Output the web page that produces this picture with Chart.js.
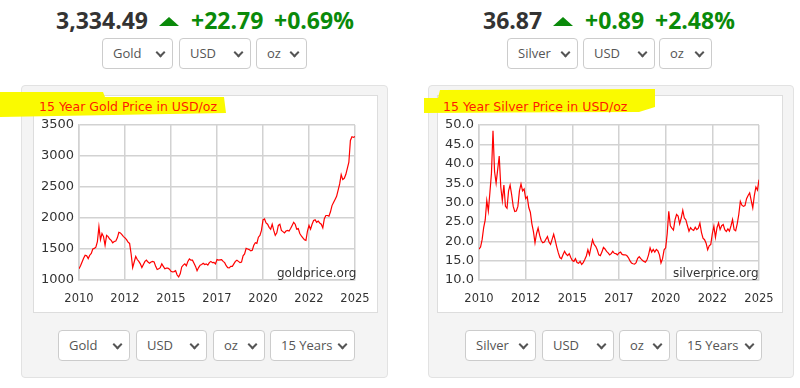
<!DOCTYPE html>
<html>
<head>
<meta charset="utf-8">
<script src="https://cdn.jsdelivr.net/npm/chart.js@4"></script>
<style>
  body { margin: 0; width: 800px; height: 388px; background: #fff; position: relative; overflow: hidden; font-family: 'Open Sans', sans-serif; }
  .price { position: absolute; top: 9px; font-size: 23px; line-height: 23px; font-weight: 700; color: #333; white-space: nowrap; }
  .up { color: #0a8a0a; }
  .tri { position: absolute; top: 17px; width: 0; height: 0; border-left: 10px solid transparent; border-right: 10px solid transparent; border-bottom: 9px solid #0a8a0a; }
  .sel { position: absolute; height: 31px; box-sizing: border-box; border: 1px solid #ccc; border-radius: 4px; background: #fff; font-size: 13px; line-height: 29px; color: #555; padding-left: 10px; white-space: nowrap; }
  .sel::after { content: ''; position: absolute; right: 8px; top: 10px; width: 5px; height: 5px; border-right: 2px solid #555; border-bottom: 2px solid #555; transform: rotate(45deg); }
  .panel { position: absolute; top: 85px; height: 293px; box-sizing: border-box; background: #f4f4f4; border: 1px solid #e2e2e2; border-radius: 4px; }
  .inner { position: absolute; top: 95px; height: 218px; box-sizing: border-box; background: #fff; border: 1px solid #ddd; }
  .mark { position: absolute; background: #fafa00; }
  .title { position: absolute; top: 99px; font-family: 'DejaVu Sans', sans-serif; font-size: 12.5px; line-height: 15px; color: #ff1a00; white-space: nowrap; }
  .wm { position: absolute; top: 266px; font-family: 'DejaVu Sans', sans-serif; font-size: 12px; line-height: 14px; color: #333; white-space: nowrap; }
  canvas { position: absolute; }
</style>
</head>
<body>

<div class="price" style="left:56px">3,334.49</div>
<div class="tri" style="left:159px"></div>
<div class="price up" style="left:191px">+22.79</div>
<div class="price up" style="left:274px">+0.69%</div>
<div class="sel" style="left:102px;top:38px;width:71px">Gold</div>
<div class="sel" style="left:179px;top:38px;width:72px">USD</div>
<div class="sel" style="left:256px;top:38px;width:51px">oz</div>

<div class="price" style="left:483px">36.87</div>
<div class="tri" style="left:553px"></div>
<div class="price up" style="left:585px">+0.89</div>
<div class="price up" style="left:655px">+2.48%</div>
<div class="sel" style="left:507px;top:38px;width:71px">Silver</div>
<div class="sel" style="left:583px;top:38px;width:72px">USD</div>
<div class="sel" style="left:659px;top:38px;width:53px">oz</div>

<div class="panel" style="left:21px;width:367px"></div>
<div class="inner" style="left:33px;width:345px"></div>
<div class="panel" style="left:428px;width:366px"></div>
<div class="inner" style="left:437px;width:346px"></div>

<div class="mark" style="left:0;top:92px;width:226px;height:26px;clip-path:polygon(0 0,103px 0,105px 5px,224px 5px,226px 21px,0 25px)"></div>
<div class="mark" style="left:424px;top:89px;width:232px;height:25px;clip-path:polygon(0 9px,14px 9px,16px 1px,231px 0,231px 18px,215px 23px,0 24px)"></div>

<div class="title" style="left:39px">15 Year Gold Price in USD/oz</div>
<div class="title" style="left:443px">15 Year Silver Price in USD/oz</div>

<canvas id="goldChart" width="340" height="200" style="left:36px;top:113px"></canvas>
<canvas id="silverChart" width="342" height="200" style="left:440px;top:113px"></canvas>

<div class="wm" style="left:277px">goldprice.org</div>
<div class="wm" style="left:673px">silverprice.org</div>

<div class="sel" style="left:58px;top:330px;width:72px">Gold</div>
<div class="sel" style="left:136px;top:330px;width:71px">USD</div>
<div class="sel" style="left:213px;top:330px;width:52px">oz</div>
<div class="sel" style="left:270px;top:330px;width:85px">15 Years</div>
<div class="sel" style="left:465px;top:330px;width:71px">Silver</div>
<div class="sel" style="left:542px;top:330px;width:72px">USD</div>
<div class="sel" style="left:619px;top:330px;width:51px">oz</div>
<div class="sel" style="left:676px;top:330px;width:86px">15 Years</div>

<script>
// monthly prices, first point mid 2010
const startYear = 2010.45;
const spanYears = 15;
const xTickStep = 2.5;
const xTickLabels = ['2010', '2012', '2015', '2017', '2020', '2022', '2025'];

const goldTicks = [1000, 1500, 2000, 2500, 3000, 3500];
const silverTicks = [10, 15, 20, 25, 30, 35, 40, 45, 50];

const goldPrices = [
  1180,1230,1290,1350,1400,1390,1345,1400,1430,1500,1510,1530,
  1620,1860,1650,1750,1700,1560,1720,1700,1660,1640,1600,1620,
  1630,1680,1770,1760,1730,1700,1680,1650,1610,1590,1420,1200,
  1290,1380,1330,1300,1260,1200,1250,1300,1320,1290,1270,1290,
  1300,1290,1220,1170,1180,1200,1260,1220,1180,1190,1190,1175,
  1140,1130,1135,1150,1080,1050,1100,1210,1240,1260,1230,1300,
  1340,1320,1320,1270,1220,1150,1200,1240,1250,1270,1250,1260,
  1240,1280,1300,1280,1285,1260,1330,1320,1325,1330,1300,1280,
  1230,1200,1195,1220,1220,1260,1300,1320,1300,1280,1290,1390,
  1420,1510,1500,1490,1470,1480,1560,1600,1590,1690,1720,1800,
  1970,1985,1920,1900,1850,1820,1900,1800,1720,1760,1880,1900,
  1800,1780,1760,1790,1800,1790,1830,1880,1930,1900,1820,1830,
  1750,1710,1680,1650,1640,1790,1880,1820,1900,1960,1970,1930,
  1950,1920,1900,1840,1990,2040,2040,2030,2100,2200,2250,2300,
  2350,2450,2550,2700,2620,2640,2700,2800,2900,3250,3310,3300,
  3315
];

const silverPrices = [
  18.0,18.5,20.4,23.5,25.5,30.5,27.8,32.5,37.5,48.5,38.0,35.0,
  38.5,42.0,34.0,30.5,34.5,29.0,28.5,33.0,34.5,32.0,29.0,27.7,
  27.8,29.0,33.0,34.8,33.0,33.5,31.0,31.5,28.7,27.5,24.5,22.5,
  19.6,22.0,23.4,21.5,20.2,19.6,19.8,20.5,21.2,19.8,19.2,20.5,
  21.8,20.2,18.5,17.0,15.8,15.5,16.5,17.4,16.7,16.3,16.8,15.8,
  15.0,14.8,15.5,14.5,14.3,14.8,14.0,14.5,15.3,16.2,17.8,16.5,
  18.5,20.4,19.2,18.7,17.8,16.5,16.3,17.2,18.4,18.0,17.4,17.0,
  16.5,16.8,17.4,16.9,16.8,16.5,17.0,17.2,16.6,16.5,16.5,16.3,
  15.8,15.0,14.4,14.2,14.1,14.5,15.6,16.0,15.5,15.1,14.8,14.6,
  15.2,16.5,18.3,17.2,17.9,17.2,17.9,17.5,16.5,14.4,15.5,17.8,
  18.3,22.0,27.7,24.0,23.4,22.9,25.5,26.9,26.5,24.5,26.0,28.0,
  26.0,25.5,24.0,22.6,23.5,23.0,22.8,23.6,23.0,23.4,24.7,22.3,
  20.8,20.4,19.5,17.8,18.8,19.2,22.0,23.9,21.0,23.5,24.7,23.0,
  24.0,24.3,23.0,22.5,23.2,22.6,24.0,25.6,23.0,22.7,24.5,26.9,
  30.3,29.3,29.0,29.2,31.0,31.8,32.5,30.5,28.6,31.8,34.0,33.2,
  35.9
];

const gridColor = '#d2d2d2';

function toPoints(values) {
  return values.map((v, i) => ({ x: startYear + i / 12, y: v }));
}

function drawChart(id, values, yTicks, decimals, yWidth, padRight) {
  const ctx = document.getElementById(id).getContext('2d');
  return new Chart(ctx, {
    type: 'line',
    data: {
      datasets: [{
        data: toPoints(values),
        borderColor: '#ff0000',
        borderWidth: 1.2,
        pointRadius: 0,
        tension: 0,
        fill: false
      }]
    },
    options: {
      responsive: false,
      animation: false,
      events: [],
      layout: { padding: { top: 12, right: padRight, left: 0, bottom: 0 } },
      plugins: { legend: { display: false }, tooltip: { enabled: false } },
      scales: {
        x: {
          type: 'linear',
          min: startYear,
          max: startYear + spanYears,
          afterBuildTicks: s => { s.ticks = xTickLabels.map((_, k) => ({ value: startYear + k * xTickStep })); },
          // fixed axis box so the plot lands where the reference has it
          afterFit: s => { s.height = 33; s.paddingLeft = 0; s.paddingRight = 0; },
          grid: { color: gridColor, lineWidth: 1.5, drawTicks: false },
          border: { color: gridColor, width: 1.5 },
          ticks: {
            padding: 12, maxRotation: 0, autoSkip: false, color: '#333',
            font: { family: 'DejaVu Sans', size: 11.5 },
            callback: (v, i) => xTickLabels[i]
          }
        },
        y: {
          min: yTicks[0],
          max: yTicks[yTicks.length - 1],
          afterBuildTicks: s => { s.ticks = yTicks.map(v => ({ value: v })); },
          afterFit: s => { s.width = yWidth; s.paddingTop = 0; s.paddingBottom = 0; },
          grid: { color: gridColor, lineWidth: 1.5, drawTicks: false },
          border: { color: gridColor, width: 1.5 },
          ticks: {
            padding: 5, color: '#333',
            font: { family: 'DejaVu Sans', size: 13 },
            callback: v => Number(v).toFixed(decimals)
          }
        }
      }
    }
  });
}

drawChart('goldChart', goldPrices, goldTicks, 0, 43, 21);
drawChart('silverChart', silverPrices, silverTicks, 1, 39, 23);
</script>
</body>
</html>
